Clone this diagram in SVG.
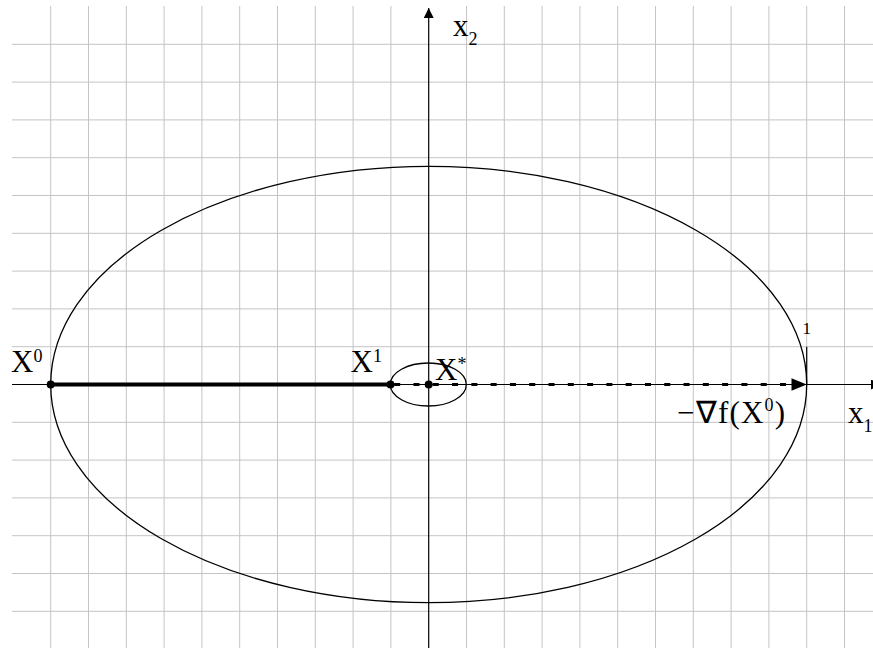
<svg xmlns="http://www.w3.org/2000/svg" width="873" height="648" viewBox="0 0 873 648">
<style>
.grid{stroke:#c4c4c4;stroke-width:1;fill:none}
.axis{stroke:#000;stroke-width:1.2;fill:none}
.curve{stroke:#000;stroke-width:1.3;fill:none}
.pt{fill:#000}
</style>
<defs>
<marker id="ah" viewBox="0 0 10 10" refX="10" refY="5" markerWidth="10" markerHeight="10" markerUnits="userSpaceOnUse" orient="auto">
<path d="M0,0 L10,5 L0,10 z" fill="#000"/>
</marker>
</defs>
<rect width="873" height="648" fill="#fff"/>
<g id="grid" class="grid">
<path d="M50.7,6V648M88.5,6V648M126.3,6V648M164.1,6V648M201.9,6V648M239.7,6V648M277.5,6V648M315.3,6V648M353.1,6V648M390.9,6V648M466.5,6V648M504.3,6V648M542.1,6V648M579.9,6V648M617.7,6V648M655.5,6V648M693.3,6V648M731.1,6V648M768.9,6V648M806.7,6V648M844.5,6V648"/>
<path d="M12,44.3H873M12,82.1H873M12,119.9H873M12,157.7H873M12,195.5H873M12,233.3H873M12,271.1H873M12,308.9H873M12,346.7H873M12,422.3H873M12,460.1H873M12,497.9H873M12,535.7H873M12,573.5H873M12,611.3H873"/>
</g>
<g id="axes">
<line class="axis" x1="12" y1="384.5" x2="881" y2="384.5" marker-end="url(#ah)"/>
<line class="axis" x1="428.7" y1="648" x2="428.7" y2="8" marker-end="url(#ah)"/>
<line class="axis" x1="806.7" y1="346.7" x2="806.7" y2="384.5"/>
</g>
<g id="ellipses">
<ellipse id="outer" class="curve" cx="428.7" cy="384.5" rx="378" ry="218.2"/>
<ellipse id="inner" class="curve" cx="428.3" cy="384.5" rx="38" ry="21.5"/>
</g>
<g id="connectors">
<line x1="50.7" y1="384.5" x2="390.5" y2="384.5" stroke="#000" stroke-width="3.8"/>
<line x1="394.2" y1="384.5" x2="791" y2="384.5" stroke="#000" stroke-width="3" stroke-dasharray="6 13.29"/>
<path d="M791.5,378.2 L806.7,384.5 L791.5,390.8 z" fill="#000"/>
</g>
<g font-family="'Liberation Serif', 'Times New Roman', serif" font-size="31" fill="#000">
<g id="X0">
<circle class="pt" cx="50.7" cy="384.5" r="4"/>
<text x="11" y="372">X<tspan font-size="18" dy="-10">0</tspan></text>
</g>
<g id="X1">
<circle class="pt" cx="390.5" cy="384.5" r="4"/>
<text x="350.5" y="372">X<tspan font-size="18" dy="-10">1</tspan></text>
</g>
<g id="Xstar">
<circle class="pt" cx="428.7" cy="384.5" r="4"/>
<text x="435" y="380">X<tspan font-size="18" dy="-10">*</tspan></text>
</g>
<g id="grad">
<text x="677" y="423" letter-spacing="1.2">−∇f(X<tspan font-size="18" dy="-12">0</tspan><tspan dy="12">)</tspan></text>
</g>
<g id="labels">
<text x="453" y="36">x<tspan font-size="18" dy="9">2</tspan></text>
<text x="848" y="423">x<tspan font-size="18" dy="9">1</tspan></text>
<text x="802.5" y="334" font-size="17">1</text>
</g>
</g>
</svg>
